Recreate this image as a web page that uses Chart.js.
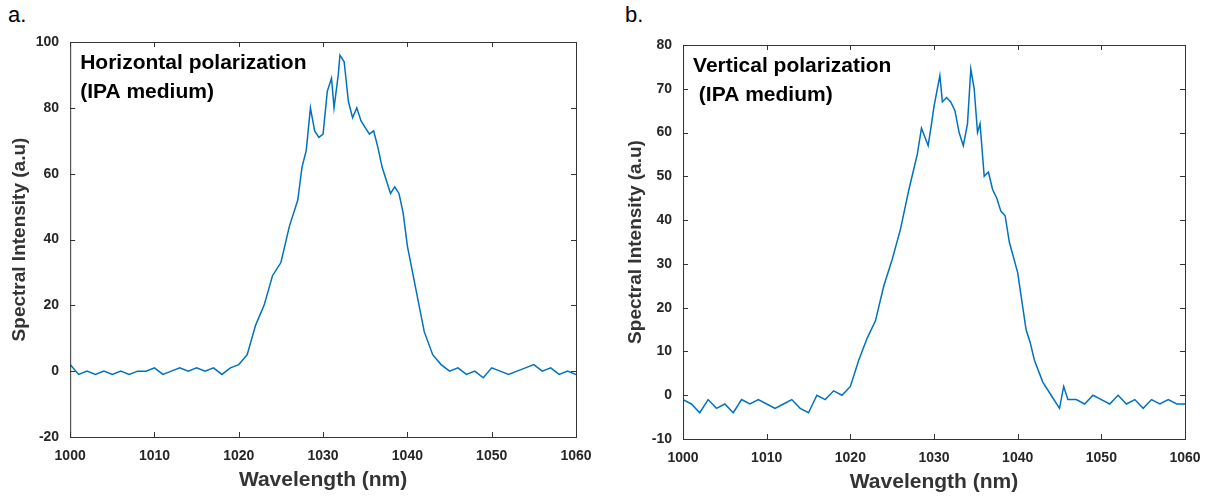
<!DOCTYPE html>
<html><head><meta charset="utf-8">
<script src="https://cdn.jsdelivr.net/npm/chart.js@4"></script>
<style>
body{margin:0;background:#fff;width:1211px;height:497px;position:relative;font-family:Arial,"Liberation Sans",sans-serif}
.wrap{position:absolute;top:0;height:497px}
.lab{position:absolute;font-size:22px;top:2px}
</style></head><body>
<div class="lab" style="left:8px">a.</div>
<div class="lab" style="left:625px">b.</div>
<div class="wrap" style="left:0;width:600px"><canvas id="c1"></canvas></div>
<div class="wrap" style="left:612px;width:599px"><canvas id="c2"></canvas></div>
<script>
const wlA=[1000,1001,1002,1003,1004,1005,1006,1007,1008,1009,1010,1011,1012,1013,1014,1015,1016,1017,1018,1019,1020,1021,1022,1023,1024,1025,1026,1027,1027.5,1028,1028.5,1029,1029.5,1030,1030.5,1031,1031.3,1031.8,1032,1032.5,1033,1033.5,1034,1034.5,1035,1035.5,1036,1036.5,1037,1038,1038.5,1039,1039.5,1040,1041,1042,1043,1044,1045,1046,1047,1048,1049,1050,1051,1052,1053,1054,1055,1056,1057,1058,1059,1060];
const intA=[2,-1,0,-1,0,-1,0,-1,0,0,1,-1,0,1,0,1,0,1,-1,1,2,5,14,20,29,33,44,52,62,67,80,73,71,72,85,89,80,90,96,94,82,77,80,76,74,72,73,68,62,54,56,54,48,38,25,12,5,2,0,1,-1,0,-2,1,0,-1,0,1,2,0,1,-1,0,-1];
const wlB=[1000,1001,1002,1003,1004,1005,1006,1007,1008,1009,1010,1011,1012,1013,1014,1015,1016,1017,1018,1019,1020,1021,1022,1023,1024,1025,1026,1027,1028,1028.5,1029.3,1029.7,1030,1030.7,1031,1031.5,1032,1032.5,1033,1033.5,1034,1034.4,1034.8,1035.2,1035.5,1036,1036.5,1037,1037.5,1038,1038.5,1039,1040,1041,1041.5,1042,1043,1044,1045,1045.5,1046,1047,1048,1049,1050,1051,1052,1053,1054,1055,1056,1057,1058,1059,1060];
const intB=[-1,-2,-4,-1,-3,-2,-4,-1,-2,-1,-2,-3,-2,-1,-3,-4,0,-1,1,0,2,8,13,17,25,31,38,47,55,61,57,62,66,73,67,68,67,65,60,57,62,74.5,70,60,62,50,51,47,45,42,41,35,28,15,12,8,3,0,-3,2,-1,-1,-2,0,-1,-2,0,-2,-1,-3,-1,-2,-1,-2,-2];
const xTicks=[1000,1010,1020,1030,1040,1050,1060];
const txt='#262626';
function boxPlugin(lines){return{id:'box',afterDraw(c){const a=c.chartArea,x=c.ctx;x.save();x.strokeStyle='#333';x.lineWidth=1;x.strokeRect(a.left+.5,a.top+.5,a.right-a.left,a.bottom-a.top);
const xs=c.scales.x,ys=c.scales.y;x.beginPath();xs.ticks.forEach(t=>{const p=Math.round(xs.getPixelForValue(t.value))+.5;x.moveTo(p,a.bottom);x.lineTo(p,a.bottom-5);x.moveTo(p,a.top);x.lineTo(p,a.top+5);});
ys.ticks.forEach(t=>{const p=Math.round(ys.getPixelForValue(t.value))+.5;x.moveTo(a.left,p);x.lineTo(a.left+5,p);x.moveTo(a.right,p);x.lineTo(a.right-5,p);});x.stroke();
x.fillStyle='#000';x.font='bold 21px Arial';lines.forEach((l,i)=>x.fillText(l,a.left+10,a.top+27+i*29));x.restore();}}}
function make(id,wl,v,ymin,ymax,step,lines,pad){
new Chart(document.getElementById(id),{type:'line',
data:{datasets:[{data:wl.map((w,i)=>({x:w,y:v[i]})),borderColor:'#0072BD',borderWidth:1.5,pointRadius:0,tension:0}]},
options:{responsive:true,maintainAspectRatio:false,animation:false,layout:{padding:pad},
plugins:{legend:{display:false},tooltip:{enabled:false}},
scales:{x:{type:'linear',min:1000,max:1060,afterBuildTicks:s=>{s.ticks=xTicks.map(v=>({value:v}))},grid:{display:false},border:{display:false},ticks:{color:txt,font:{size:14,weight:'bold'},maxRotation:0,callback:v=>String(v)},title:{display:true,text:'Wavelength (nm)',color:'#333',font:{size:21,weight:'bold'},padding:{top:0}}},
y:{min:ymin,max:ymax,ticks:{stepSize:step,color:txt,font:{size:14,weight:'bold'}},grid:{display:false},border:{display:false},title:{display:true,text:'Spectral Intensity (a.u)',color:'#333',font:{size:19,weight:'bold'},padding:{bottom:2}}}}},
plugins:[boxPlugin(lines)]});}
make('c1',wlA,intA,-20,100,20,['Horizontal polarization','(IPA medium)'],{left:4,top:42,right:24,bottom:0});
make('c2',wlB,intB,-10,80,10,['Vertical polarization',' (IPA medium)'],{left:8,top:45,right:26,bottom:-2});
</script></body></html>
